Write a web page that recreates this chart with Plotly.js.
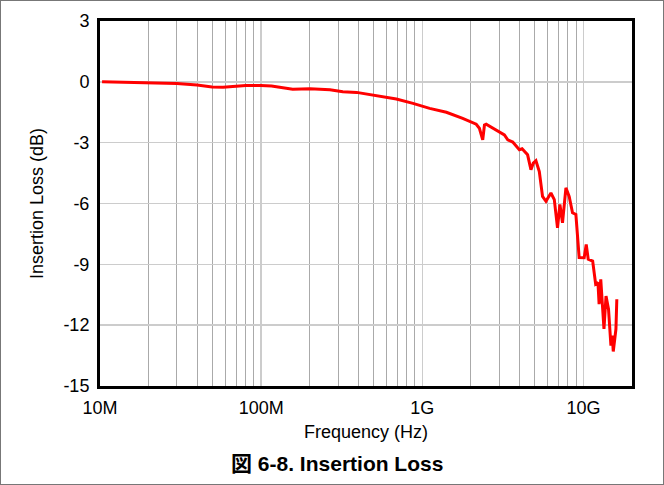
<!DOCTYPE html>
<html>
<head>
<meta charset="utf-8">
<script src="https://cdn.plot.ly/plotly-3.0.1.min.js"></script>
<style>
  html, body { margin: 0; padding: 0; background: #fff; }
  #wrap { position: relative; width: 664px; height: 485px; box-sizing: border-box; border: 1px solid #777; overflow: hidden; }
  #chart { position: absolute; left: -1px; top: -1px; width: 664px; height: 485px; }
</style>
</head>
<body>
<div id="wrap"><div id="chart"></div></div>
<script>
// Frequency points (Hz)
const freqHz = [
  1.03e7, 2.0e7, 3.0e7, 4.0e7, 4.96e7, 5.8e7, 6.96e7, 8.03e7, 9.95e7, 1.16e8,
  1.57e8, 2.01e8, 2.67e8, 3.21e8, 3.91e8, 4.50e8, 5.44e8, 6.90e8, 8.75e8, 1.11e9,
  1.41e9, 1.78e9, 2.16e9, 2.26e9, 2.37e9, 2.43e9, 2.49e9, 2.94e9, 3.23e9, 3.39e9,
  3.64e9, 4.00e9, 4.16e9, 4.50e9, 4.72e9, 4.88e9, 5.07e9, 5.32e9, 5.57e9, 5.85e9,
  6.28e9, 6.59e9, 6.90e9, 7.14e9, 7.41e9, 7.78e9, 8.15e9, 8.55e9, 8.97e9, 9.40e9,
  1.01e10, 1.04e10, 1.07e10, 1.14e10, 1.19e10, 1.23e10, 1.25e10, 1.28e10, 1.31e10, 1.34e10,
  1.38e10, 1.43e10, 1.48e10, 1.51e10, 1.53e10, 1.59e10, 1.61e10
];
// Insertion loss (dB)
const lossDb = [
  0.0, -0.03, -0.08, -0.16, -0.25, -0.27, -0.21, -0.18, -0.18, -0.21,
  -0.36, -0.34, -0.39, -0.49, -0.52, -0.60, -0.69, -0.85, -1.06, -1.31,
  -1.50, -1.80, -2.09, -2.29, -2.86, -2.13, -2.09, -2.45, -2.62, -2.86,
  -2.97, -3.35, -3.30, -3.60, -4.33, -4.01, -3.89, -4.42, -5.65, -5.89,
  -5.48, -5.81, -7.20, -6.05, -6.95, -5.23, -5.65, -6.46, -6.54, -8.66,
  -8.67, -8.02, -8.75, -8.84, -9.98, -9.90, -10.96, -9.74, -10.88, -12.19,
  -10.56, -11.21, -13.01, -12.52, -13.30, -12.19, -10.72
];
// Axis ticks
const xTickVals = [1e7, 1e8, 1e9, 1e10];
const xTickText = ['10M', '100M', '1G', '10G'];
const yTickVals = [3, 0, -3, -6, -9, -12, -15];
const yTickText = ['3', '0', '-3', '-6', '-9', '-12', '-15'];
const xMax = 2e10;

const minorVals = [];
for (let d = 1e7; d < xMax; d *= 10) {
  for (let m = 2; m <= 9; m++) { if (d * m < xMax) minorVals.push(d * m); }
}

const FONT = 'Liberation Sans, Arial, Noto Sans CJK JP, sans-serif';

const trace = {
  x: freqHz, y: lossDb, type: 'scatter', mode: 'lines',
  line: { color: '#ff0000', width: 3 }, hoverinfo: 'skip', showlegend: false
};

const layout = {
  width: 664, height: 485,
  margin: { l: 100, r: 32, t: 21, b: 99 },
  paper_bgcolor: '#ffffff', plot_bgcolor: '#ffffff',
  font: { family: FONT, size: 18, color: '#000' },
  showlegend: false,
  xaxis: {
    type: 'log', range: [7, Math.log10(xMax)],
    tickmode: 'array', tickvals: xTickVals, ticktext: xTickText,
    ticks: '', showline: true, mirror: true, linecolor: '#000', linewidth: 3,
    showgrid: true, gridcolor: '#cccccc', gridwidth: 1.5,
    minor: { tickmode: 'array', tickvals: minorVals, showgrid: true, gridcolor: '#aaaaaa', gridwidth: 1, ticks: '' },
    zeroline: false,
    ticklabelstandoff: 3,
    tickfont: { size: 18 },
    title: { text: 'Frequency (Hz)', font: { size: 18 }, standoff: 9 },
    automargin: false
  },
  yaxis: {
    range: [-15, 3],
    tickmode: 'array', tickvals: yTickVals, ticktext: yTickText,
    ticks: '', showline: true, mirror: true, linecolor: '#000', linewidth: 3,
    showgrid: true, gridcolor: '#cccccc', gridwidth: 1.5,
    zeroline: false,
    ticklabelstandoff: 4,
    tickfont: { size: 18 },
    title: { text: 'Insertion Loss (dB)', font: { size: 18 }, standoff: 16 },
    automargin: false
  },
  annotations: [{
    text: '<b>図 6-8. Insertion Loss</b>',
    xref: 'paper', yref: 'paper', x: 0.446, y: -0.211,
    xanchor: 'center', yanchor: 'middle', showarrow: false,
    font: { family: FONT, size: 21, color: '#000' }
  }]
};

Plotly.newPlot('chart', [trace], layout, { displayModeBar: false, staticPlot: true });
</script>
</body>
</html>
